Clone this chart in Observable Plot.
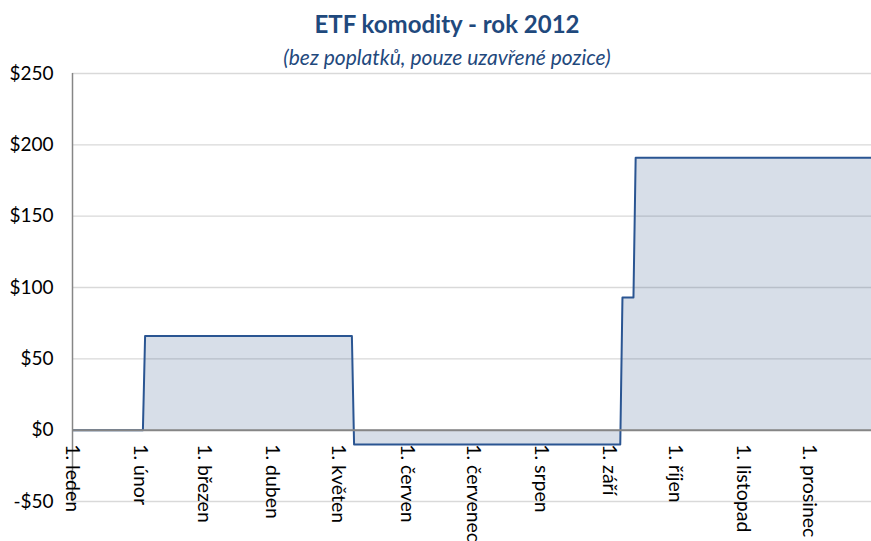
<!DOCTYPE html>
<html><head><meta charset="utf-8">
<script src="https://cdn.jsdelivr.net/npm/d3@7"></script>
<script src="https://cdn.jsdelivr.net/npm/@observablehq/plot@0.6"></script>
<style>
body{margin:0;background:#fff;}
#wrap{position:relative;width:871px;height:541px;overflow:hidden;font-family:Lato,sans-serif;background:#fff;}
#title{position:absolute;left:0;width:894px;top:10px;text-align:center;font-weight:700;font-size:24px;line-height:28px;color:#1f497d;}
#subtitle{position:absolute;left:0;width:894px;top:44px;text-align:center;font-style:italic;font-size:21px;line-height:26px;color:#1f497d;}
#chart{position:absolute;left:0;top:0;}
</style></head>
<body>
<div id="wrap">
<div id="chart"></div>
<div id="title">ETF komodity - rok 2012</div>
<div id="subtitle">(bez poplatků, pouze uzavřené pozice)</div>
</div>
<script>
const dates = ["2012-01-01","2012-02-02","2012-02-03","2012-05-07","2012-05-08","2012-09-06","2012-09-07","2012-09-12","2012-09-13","2012-12-31"];
const values = [0,0,66,66,-10,-10,93,93,191,191];
const monthTicks = ["2012-01-01","2012-02-01","2012-03-01","2012-04-01","2012-05-01","2012-06-01","2012-07-01","2012-08-01","2012-09-01","2012-10-01","2012-11-01","2012-12-01"];
const monthLabels = ["1. leden","1. únor","1. březen","1. duben","1. květen","1. červen","1. červenec","1. srpen","1. září","1. říjen","1. listopad","1. prosinec"];
const yTicks = [-50,0,50,100,150,200,250];

const data = dates.map((d,i)=>({date:new Date(d), value:values[i]}));
const ticks = monthTicks.map((d,i)=>({date:new Date(d), label:monthLabels[i]}));
const fmt = d => d < 0 ? "-$" + (-d) : "$" + d;

const chart = Plot.plot({
  width:871, height:541,
  marginTop:73, marginBottom:40, marginLeft:72, marginRight:0,
  style:{fontFamily:"Lato, sans-serif", background:"transparent", color:"#000"},
  x:{type:"utc", domain:[new Date("2012-01-01"), new Date("2012-12-29T05:00:00Z")], axis:null},
  y:{domain:[-50,250], axis:null},
  marks:[
    Plot.ruleY(yTicks, {stroke:"#d9d9d9", strokeWidth:1.3}),
    Plot.areaY(data, {x:"date", y:"value", fill:"#1f497d", fillOpacity:0.18, clip:true}),
    Plot.lineY(data, {x:"date", y:"value", stroke:"#2a5592", strokeWidth:2, clip:true}),
    Plot.ruleY([0], {stroke:"#868686", strokeWidth:2}),
    Plot.ruleX([new Date("2012-01-01")], {stroke:"#868686", strokeWidth:1.5}),
    Plot.axisY({ticks:yTicks, tickFormat:fmt, tickSize:0, tickPadding:19, fontSize:19, label:null, fill:"#000"}),
    Plot.text(ticks, {x:"date", y:d=>0, text:"label", rotate:90, textAnchor:"start", dy:14, fontSize:19.5, fill:"#000"})
  ]
});
document.getElementById("chart").appendChild(chart);
</script>
</body></html>
